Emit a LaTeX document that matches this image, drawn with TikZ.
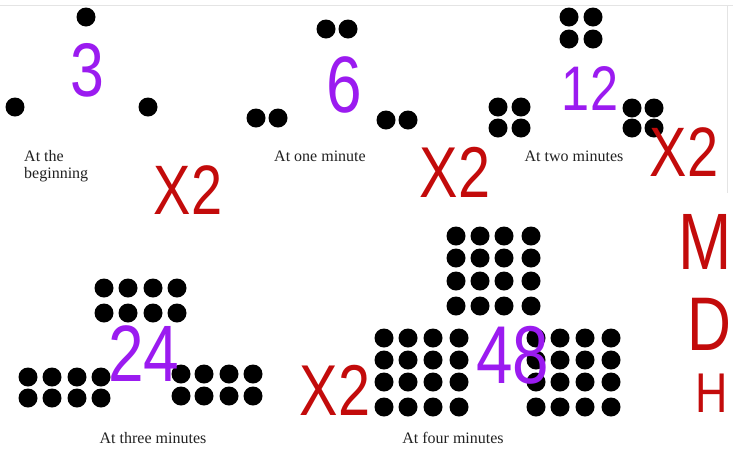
\documentclass[tikz,border=0pt]{standalone}
\usepackage{fontspec}
\setmainfont{Liberation Serif}
\newfontfamily\handfont[FakeStretch=0.8]{Liberation Sans}
\definecolor{inkpurple}{HTML}{9B1BF0}
\definecolor{inkred}{HTML}{C30B0B}
\definecolor{textgray}{HTML}{222222}
\definecolor{edgegray}{HTML}{E4E4E4}
\tikzset{
  bead/.style={fill=black},
  caption/.style={font=\fontsize{16}{18}\selectfont,text=textgray,inner sep=0pt},
  tally/.style={font=\handfont\fontsize{#1}{#1}\selectfont,text=inkpurple,inner sep=0pt},
  factor/.style={font=\handfont\fontsize{#1}{#1}\selectfont,text=inkred,inner sep=0pt}
}

\begin{document}
\begin{tikzpicture}[x=1pt,y=-1pt]
  \useasboundingbox (0,0) rectangle (733,448);
  \clip (0,0) rectangle (733,448);
  \fill[white] (0,0) rectangle (733,448);
  \draw[edgegray] (0,5) -- (733,5);
  \draw[edgegray] (727,5) -- (727,193);

  % At the beginning
  \fill[bead] (86,17) circle (9.5pt);
  \fill[bead] (15,107) circle (9.5pt);
  \fill[bead] (148,107) circle (9.5pt);
  \node[caption,anchor=base west] (begin1) at (24,161) {At the};
  \node[caption,anchor=base west] (begin2) at (24,178) {beginning};

  % At one minute
  \foreach \x in {326,348} \fill[bead] (\x,29) circle (9.5pt);
  \foreach \x in {256,278} \fill[bead] (\x,118) circle (9.5pt);
  \foreach \x in {386,408} \fill[bead] (\x,120) circle (9.5pt);
  \node[caption,anchor=base] (one) at (320,161) {At one minute};

  % At two minutes
  \foreach \x in {569,593} \foreach \y in {17,39} \fill[bead] (\x,\y) circle (9.5pt);
  \foreach \x in {498,521} \foreach \y in {107,128} \fill[bead] (\x,\y) circle (9.5pt);
  \foreach \x in {632,654} \foreach \y in {108,128} \fill[bead] (\x,\y) circle (9.5pt);
  \node[caption,anchor=base] (two) at (574,161) {At two minutes};

  % At three minutes
  \foreach \x in {104,128,153,177} \foreach \y in {288,313} \fill[bead] (\x,\y) circle (9.5pt);
  \foreach \x in {28,52,77,101} \foreach \y in {377,398} \fill[bead] (\x,\y) circle (9.5pt);
  \foreach \x in {181,204,229,253} \foreach \y in {374,396} \fill[bead] (\x,\y) circle (9.5pt);
  \node[caption,anchor=base] (three) at (153,443) {At three minutes};

  % At four minutes
  \foreach \x in {456,480,504,531} \foreach \y in {236,258,281,306} \fill[bead] (\x,\y) circle (9.5pt);
  \foreach \x in {384,408,433,459} \foreach \y in {338,360,382,407} \fill[bead] (\x,\y) circle (9.5pt);
  \foreach \x in {536,560,585,611} \foreach \y in {338,360,382,407} \fill[bead] (\x,\y) circle (9.5pt);
  \node[caption,anchor=base] (four) at (453,443) {At four minutes};

  % Counts in purple
  \node[tally=76] (n3) at (87,70) {3};
  \node[tally=80] (n6) at (344,85) {6};
  \node[tally=63] (n12) at (590,88) {12};
  \node[tally=80] (n24) at (144,354) {24};
  \node[tally=82] (n48) at (513,355) {48};

  % Doubling marks in red
  \node[factor=70] (x2a) at (188,190) {X2};
  \node[factor=72] (x2b) at (455,172) {X2};
  \node[factor=70] (x2c) at (684,152) {X2};
  \node[factor=72] (x2d) at (335,390) {X2};
  \node[factor=80,anchor=east] (wordm) at (732,242) {M};
  \node[factor=76,anchor=east] (wordd) at (732,324) {D};
  \node[factor=56,anchor=west] (wordh) at (695,393) {H};
\end{tikzpicture}
\end{document}
